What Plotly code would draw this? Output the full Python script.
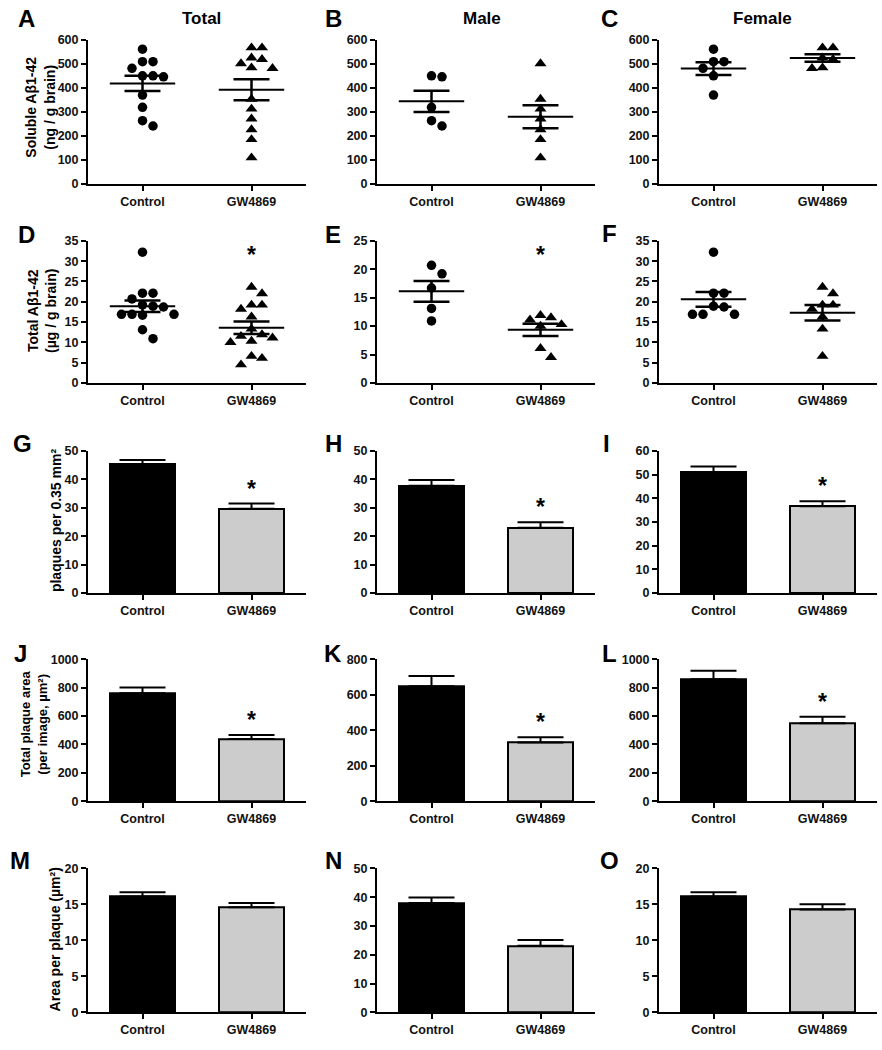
import numpy as np
import plotly.graph_objects as go

# ---------------- data ----------------
categories = ["Control", "GW4869"]
column_titles = ["Total", "Male", "Female"]
panel_letters = list("ABCDEFGHIJKLMNO")

# Soluble Abeta1-42 (ng / g brain), individual animals
sol_male_ctrl = [449, 445, 318, 262, 240]
sol_male_gw = [500, 352, 311, 270, 225, 184, 108]
sol_female_ctrl = [560, 508, 508, 480, 449, 369]
sol_female_gw = [566, 566, 524, 518, 483, 480]

# Total Abeta1-42 (ug / g brain), individual animals
tot_male_ctrl = [20.7, 19.2, 16.7, 13.1, 10.9]
tot_male_gw = [11.9, 11.5, 11.1, 10.3, 10.0, 6.1, 4.5]
tot_female_ctrl = [32.2, 22.1, 22.1, 18.9, 18.7, 16.9, 16.9, 16.9]
tot_female_gw = [23.6, 22.0, 19.2, 19.2, 18.2, 16.3, 13.3, 6.6]

# plaques per 0.35 mm2 (mean, SEM) : total, male, female
plaq_mean = [[45.4, 29.7], [37.8, 23.0], [51.0, 36.7]]
plaq_sem = [[1.4, 1.8], [2.0, 1.9], [2.5, 2.1]]
# total plaque area per image (um2)
area_mean = [[760, 439], [647, 331], [859, 550]]
area_sem = [[41, 27], [59, 29], [60, 44]]
# area per plaque (um2)
size_mean = [[16.1, 14.6], [38.0, 23.1], [16.1, 14.3]]
size_sem = [[0.6, 0.6], [1.9, 2.0], [0.6, 0.7]]

# significance marks (GW4869 vs control), per panel A..O
significant = [False, False, False, True, True, False,
               True, True, True, True, True, True, False, False, False]

# axis maxima / tick steps, per panel A..O
y_max = [600, 600, 600, 35, 25, 35, 50, 50, 60, 1000, 800, 1000, 20, 50, 20]
y_step = [100, 100, 100, 5, 5, 5, 10, 10, 10, 200, 200, 200, 5, 10, 5]

y_titles = [
    "Soluble Aβ1-42<br>(ng / g brain)",
    "Total Aβ1-42<br>(µg / g brain)",
    "plaques per 0.35 mm²",
    "Total plaque area<br>(per image, µm²)",
    "Area per plaque (µm²)",
]

# ---------------- layout geometry (pixels) ----------------
W, H = 882, 1050
cols_px = [(88, 306), (377, 595), (659, 877)]
rows_px = [(33, 179), (237, 381), (450, 594), (661, 805), (873, 1019)]
FONT = "Liberation Sans, Arial, sans-serif"
NARROW = "Liberation Sans Narrow, Liberation Sans, Arial, sans-serif"


def ax_name(k, letter):
    return letter if k == 0 else f"{letter}{k + 1}"


def swarm_offsets(vals, px_per_unit, step=10.5, diam=9.5):
    order = sorted(range(len(vals)), key=lambda i: -vals[i])
    cand = [0]
    for m in range(1, 12):
        cand += [m, -m]
    placed, offs = [], [0.0] * len(vals)
    for i in order:
        y = vals[i] * px_per_unit
        x = 0.0
        for c in cand:
            x = c * step
            if all((x - px) ** 2 + (y - py) ** 2 >= diam ** 2 for px, py in placed):
                break
        placed.append((x, y))
        offs[i] = x
    return offs


fig = go.Figure()
annotations = []
layout = {}

scatter_groups = [
    [(sol_male_ctrl + sol_female_ctrl, sol_male_gw + sol_female_gw),
     (sol_male_ctrl, sol_male_gw),
     (sol_female_ctrl, sol_female_gw)],
    [(tot_male_ctrl + tot_female_ctrl, tot_male_gw + tot_female_gw),
     (tot_male_ctrl, tot_male_gw),
     (tot_female_ctrl, tot_female_gw)],
]
bar_groups = [(plaq_mean, plaq_sem), (area_mean, area_sem), (size_mean, size_sem)]

for r in range(5):
    for c in range(3):
        k = r * 3 + c
        xa, ya = ax_name(k, "x"), ax_name(k, "y")
        x0, x1 = cols_px[c]
        t0, b0 = rows_px[r]
        tickfam = FONT if r < 2 else NARROW
        layout[ax_name(k, "xaxis")] = dict(
            domain=[x0 / W, x1 / W], anchor=ya, range=[-0.5, 1.5],
            tickvals=[0, 1], ticktext=categories, showline=True, linecolor="black",
            linewidth=2, ticks="outside", ticklen=5, tickwidth=1.5, tickcolor="black",
            showgrid=False, zeroline=False, fixedrange=True,
            tickfont=dict(family=tickfam, size=12.5, color="#111", weight="bold"))
        layout[ax_name(k, "yaxis")] = dict(
            domain=[1 - b0 / H, 1 - t0 / H], anchor=xa, range=[0, y_max[k]],
            tick0=0, dtick=y_step[k], showline=True, linecolor="black", linewidth=2,
            ticks="outside", ticklen=5, tickwidth=2, tickcolor="black",
            showgrid=False, zeroline=False, fixedrange=True,
            tickfont=dict(family=tickfam, size=12.5, color="#111", weight="bold"))
        ppu = (b0 - t0) / y_max[k]
        xppu = (x1 - x0) / 2.0

        if r < 2:
            ctrl, gw = scatter_groups[r][c]
            for ci, (vals, sym, sz) in enumerate([(ctrl, "circle", 9.5), (gw, "triangle-up", 10.5)]):
                offs = swarm_offsets(vals, ppu)
                fig.add_trace(go.Scatter(
                    x=[ci + o / xppu for o in offs], y=vals, mode="markers",
                    marker=dict(symbol=sym, size=sz, color="black", line=dict(width=0)),
                    xaxis=xa, yaxis=ya, showlegend=False, hoverinfo="skip"))
                arr = np.array(vals, dtype=float)
                m = arr.mean()
                s = arr.std(ddof=1) / np.sqrt(len(arr))
                fig.add_trace(go.Scatter(
                    x=[ci - 0.3, ci + 0.3], y=[m, m], mode="lines",
                    line=dict(color="black", width=2), xaxis=xa, yaxis=ya,
                    showlegend=False, hoverinfo="skip"))
                h = 0.165
                fig.add_trace(go.Scatter(
                    x=[ci - h, ci + h, None, ci - h, ci + h, None, ci, ci],
                    y=[m + s, m + s, None, m - s, m - s, None, m - s, m + s],
                    mode="lines", line=dict(color="black", width=2.5),
                    xaxis=xa, yaxis=ya, showlegend=False, hoverinfo="skip"))
            if significant[k]:
                annotations.append(dict(
                    x=1, y=0.9, xref=xa, yref=f"{ya} domain", text="*",
                    showarrow=False, xanchor="center", yanchor="middle",
                    font=dict(family=FONT, size=23, color="black", weight="bold")))
        else:
            means, sems = bar_groups[r - 2][0][c], bar_groups[r - 2][1][c]
            fig.add_trace(go.Bar(
                x=[0, 1], y=means, width=0.6,
                marker=dict(color=["black", "#cccccc"], line=dict(color="black", width=2)),
                error_y=dict(type="data", array=sems, arrayminus=[0, 0], symmetric=False,
                             color="black", thickness=2, width=23),
                xaxis=xa, yaxis=ya, showlegend=False, hoverinfo="skip"))
            if significant[k]:
                annotations.append(dict(
                    x=1, y=means[1] + sems[1], xref=xa, yref=ya, text="*",
                    showarrow=False, xanchor="center", yanchor="middle", yshift=15,
                    font=dict(family=FONT, size=23, color="black", weight="bold")))

# panel letters
letter_pos = [(26, 12), (333, 12), (609, 12),
              (26, 231), (333, 231), (609, 230),
              (22, 442), (333, 442), (606, 442),
              (20, 655), (333, 655), (609, 655),
              (20, 865), (333, 865), (609, 865)]
for k, (lx, ly) in enumerate(letter_pos):
    annotations.append(dict(
        x=lx / W, y=1 - ly / H, xref="paper", yref="paper", text=panel_letters[k],
        showarrow=False, xanchor="center", yanchor="middle",
        font=dict(family=FONT if k < 6 else NARROW, size=24, color="black", weight="bold")))

# column titles
for c, (tx) in enumerate([201, 482, 762]):
    annotations.append(dict(
        x=tx / W, y=1 - 12 / H, xref="paper", yref="paper", text=column_titles[c],
        showarrow=False, xanchor="center", yanchor="middle",
        font=dict(family=FONT, size=17, color="black", weight="bold")))

# y-axis titles
ytitle_pos = [(40, 102), (42, 308), (56, 520), (34, 727), (55, 945)]
ytitle_size = [14, 14, 14, 13, 14]
for r, (yx, yy) in enumerate(ytitle_pos):
    annotations.append(dict(
        x=yx / W, y=1 - yy / H, xref="paper", yref="paper", text=y_titles[r],
        showarrow=False, xanchor="center", yanchor="middle", textangle=-90,
        font=dict(family=FONT, size=ytitle_size[r], color="black", weight="bold")))

fig.update_layout(
    width=W, height=H, margin=dict(l=0, r=0, t=0, b=0),
    paper_bgcolor="white", plot_bgcolor="white", bargap=0,
    annotations=annotations, **layout)

fig.write_html(
    "out.html", config={"displayModeBar": False},
    post_script="document.body.style.margin='0';document.body.style.overflow='hidden';")
